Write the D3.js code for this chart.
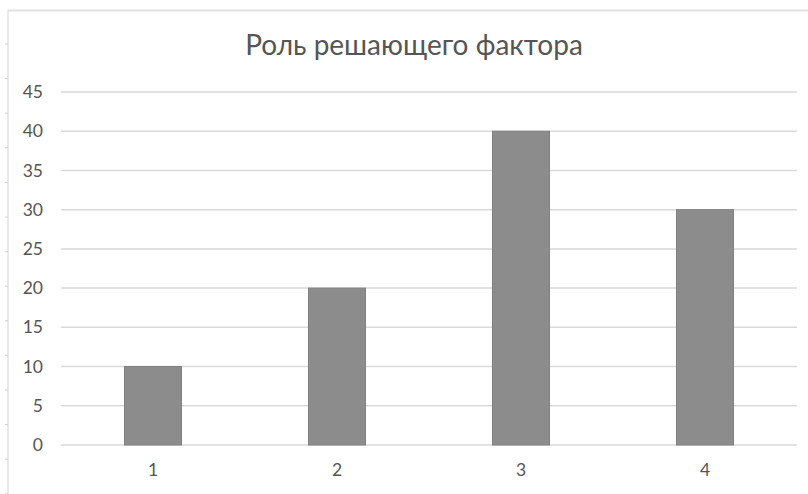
<!DOCTYPE html>
<html>
<head>
<meta charset="utf-8">
<script src="https://cdn.jsdelivr.net/npm/d3@7/dist/d3.min.js"></script>
<style>
  html, body { margin: 0; padding: 0; background: #fff; }
  svg { display: block; font-family: Lato, "Open Sans", sans-serif; }
</style>
</head>
<body>
<svg id="chart" width="808" height="494"></svg>
<script>
// Chart data
const title = "Роль решающего фактора";
const categories = ["1", "2", "3", "4"];
const values = [10, 20, 40, 30];
const yTicks = [0, 5, 10, 15, 20, 25, 30, 35, 40, 45];

const svg = d3.select("#chart");
const W = 808, H = 494;
const plot = { left: 61, right: 797, top: 92, bottom: 445 };

// Outer frame: top edge and left edge with small marks
svg.append("line")
  .attr("x1", 8).attr("x2", W).attr("y1", 10.5).attr("y2", 10.5)
  .attr("stroke", "#e2e2e2").attr("stroke-width", 2);
svg.append("line")
  .attr("x1", 8).attr("x2", 8).attr("y1", 10).attr("y2", H)
  .attr("stroke", "#e2e2e2").attr("stroke-width", 1.5);
d3.range(44, H, 34.6).forEach(y => {
  svg.append("line")
    .attr("x1", 5).attr("x2", 8).attr("y1", y).attr("y2", y)
    .attr("stroke", "#d0d0d0").attr("stroke-width", 1);
});

const x = d3.scaleBand()
  .domain(categories)
  .range([plot.left, plot.right])
  .paddingInner(0.69)
  .paddingOuter(0.345);

const y = d3.scaleLinear()
  .domain([0, 45])
  .range([plot.bottom, plot.top]);

// Gridlines
svg.append("g")
  .selectAll("line")
  .data(yTicks)
  .join("line")
  .attr("x1", plot.left).attr("x2", plot.right)
  .attr("y1", d => y(d)).attr("y2", d => y(d))
  .attr("stroke", "#d9d9d9").attr("stroke-width", 1.5);

// Y axis labels
const yAxis = d3.axisLeft(y).tickValues(yTicks).tickSize(0).tickPadding(0);
svg.append("g")
  .attr("transform", `translate(43,0)`)
  .call(yAxis)
  .call(g => g.select(".domain").remove())
  .call(g => g.selectAll("text")
    .attr("fill", "#555555")
    .attr("font-size", 17.5)
    .attr("font-family", "Lato, sans-serif"));

// Bars
svg.append("g")
  .selectAll("rect")
  .data(values)
  .join("rect")
  .attr("x", (d, i) => x(categories[i]))
  .attr("width", x.bandwidth())
  .attr("y", d => y(d))
  .attr("height", d => y(0) - y(d))
  .attr("fill", "#8c8c8c")
  .attr("stroke", "#808080")
  .attr("stroke-width", 1);

// X axis labels
const xAxis = d3.axisBottom(x).tickSize(0).tickPadding(0);
svg.append("g")
  .attr("transform", `translate(0,${plot.bottom + 19})`)
  .call(xAxis)
  .call(g => g.select(".domain").remove())
  .call(g => g.selectAll("text")
    .attr("fill", "#555555")
    .attr("font-size", 17.5)
    .attr("font-family", "Lato, sans-serif"));

// Title
svg.append("text")
  .attr("x", 414)
  .attr("y", 55)
  .attr("text-anchor", "middle")
  .attr("fill", "#555555")
  .attr("font-size", 28)
  .attr("font-family", "Lato, sans-serif")
  .text(title);
</script>
</body>
</html>
